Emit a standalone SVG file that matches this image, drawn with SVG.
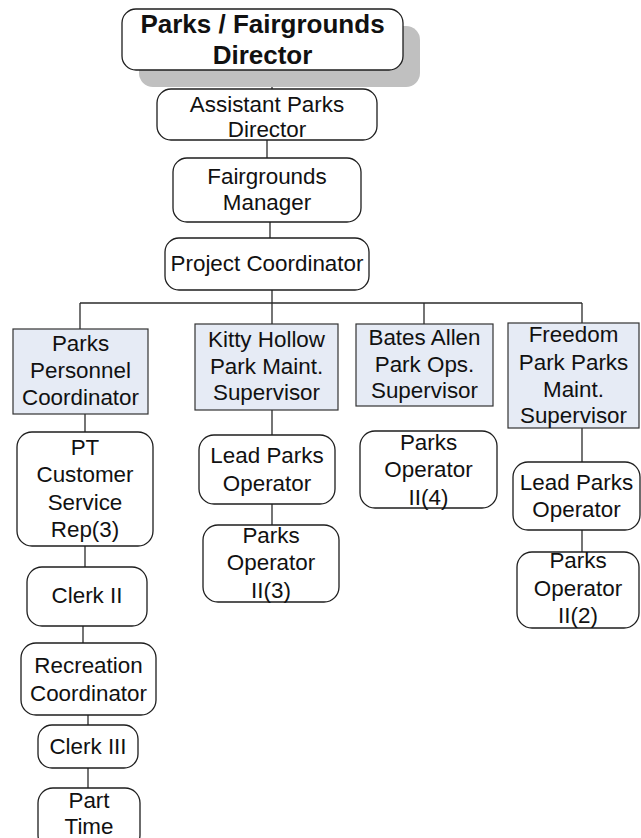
<svg xmlns="http://www.w3.org/2000/svg" width="641" height="838" viewBox="0 0 641 838">
  <style>
    .box { fill: #ffffff; stroke: #1e1e1e; stroke-width: 1.3; }
    .pos { fill: #e6ebf5; stroke: #333333; stroke-width: 1.2; }
    .shadow { fill: #c0c0c0; }
    .lbl { font-family: "Liberation Sans", Arial, sans-serif; font-size: 22.4px; fill: #111111; text-anchor: middle; }
    .head { font-family: "Liberation Sans", Arial, sans-serif; font-size: 26px; font-weight: bold; fill: #111111; text-anchor: middle; }
    .wire { stroke: #2a2a2a; stroke-width: 1.3; fill: none; }
  </style>
  <rect width="641" height="838" fill="#ffffff"/>

  <!-- reporting lines -->
  <g id="connectors">
    <path class="wire" d="M272 70V89"/>
    <path class="wire" d="M267 140V158"/>
    <path class="wire" d="M270 222V238"/>
    <path class="wire" d="M272 290V326"/>
    <path class="wire" d="M80 303H582"/>
    <path class="wire" d="M80 303V329"/>
    <path class="wire" d="M424 303V324"/>
    <path class="wire" d="M582 303V323"/>
    <path class="wire" d="M85 414V432"/>
    <path class="wire" d="M85 546V567"/>
    <path class="wire" d="M83 626V643"/>
    <path class="wire" d="M88 715V725"/>
    <path class="wire" d="M88 768V788"/>
    <path class="wire" d="M272 410V435"/>
    <path class="wire" d="M272 504V525"/>
    <path class="wire" d="M582 428V462"/>
    <path class="wire" d="M582 530V552"/>
  </g>

  <g id="director">
    <rect class="shadow" x="139" y="26" width="281" height="61" rx="14"/>
    <rect class="box" x="122" y="9" width="281" height="61" rx="14"/>
    <text class="head" x="262.5" y="33">Parks / Fairgrounds</text>
    <text class="head" x="262.5" y="64">Director</text>
  </g>

  <g id="assistant-director">
    <rect class="box" x="157" y="89" width="220" height="51" rx="14"/>
    <text class="lbl" x="267" y="112">Assistant Parks</text>
    <text class="lbl" x="267" y="137">Director</text>
  </g>

  <g id="fairgrounds-manager">
    <rect class="box" x="173" y="158" width="188" height="64" rx="14"/>
    <text class="lbl" x="267" y="184">Fairgrounds</text>
    <text class="lbl" x="267" y="210">Manager</text>
  </g>

  <g id="project-coordinator">
    <rect class="box" x="165" y="238" width="204" height="52" rx="14"/>
    <text class="lbl" x="267" y="271">Project Coordinator</text>
  </g>

  <g id="personnel-coordinator">
    <rect class="pos" x="13" y="329" width="135" height="85"/>
    <text class="lbl" x="80.5" y="351">Parks</text>
    <text class="lbl" x="80.5" y="378">Personnel</text>
    <text class="lbl" x="80.5" y="405">Coordinator</text>
  </g>

  <g id="kitty-hollow-supervisor">
    <rect class="pos" x="195" y="324" width="143" height="86"/>
    <text class="lbl" x="266.5" y="347">Kitty Hollow</text>
    <text class="lbl" x="266.5" y="374">Park Maint.</text>
    <text class="lbl" x="266.5" y="400">Supervisor</text>
  </g>

  <g id="bates-allen-supervisor">
    <rect class="pos" x="356" y="324" width="137" height="82"/>
    <text class="lbl" x="424.5" y="345">Bates Allen</text>
    <text class="lbl" x="424.5" y="372">Park Ops.</text>
    <text class="lbl" x="424.5" y="398">Supervisor</text>
  </g>

  <g id="freedom-park-supervisor">
    <rect class="pos" x="508" y="323" width="131" height="105"/>
    <text class="lbl" x="573.5" y="342">Freedom</text>
    <text class="lbl" x="573.5" y="370">Park Parks</text>
    <text class="lbl" x="573.5" y="397">Maint.</text>
    <text class="lbl" x="573.5" y="423">Supervisor</text>
  </g>

  <g id="pt-customer-service">
    <rect class="box" x="17" y="432" width="136" height="114" rx="15"/>
    <text class="lbl" x="85" y="455">PT</text>
    <text class="lbl" x="85" y="482">Customer</text>
    <text class="lbl" x="85" y="510">Service</text>
    <text class="lbl" x="85" y="537">Rep(3)</text>
  </g>

  <g id="clerk-ii">
    <rect class="box" x="27" y="567" width="120" height="59" rx="15"/>
    <text class="lbl" x="87" y="603">Clerk II</text>
  </g>

  <g id="recreation-coordinator">
    <rect class="box" x="21" y="643" width="135" height="72" rx="15"/>
    <text class="lbl" x="88.5" y="673">Recreation</text>
    <text class="lbl" x="88.5" y="701">Coordinator</text>
  </g>

  <g id="clerk-iii">
    <rect class="box" x="38" y="725" width="100" height="43" rx="14"/>
    <text class="lbl" x="88" y="754">Clerk III</text>
  </g>

  <g id="part-time">
    <rect class="box" x="38" y="788" width="102" height="62" rx="15"/>
    <text class="lbl" x="89" y="808">Part</text>
    <text class="lbl" x="89" y="834">Time</text>
  </g>

  <g id="kitty-lead-operator">
    <rect class="box" x="199" y="435" width="136" height="69" rx="15"/>
    <text class="lbl" x="267" y="463">Lead Parks</text>
    <text class="lbl" x="267" y="491">Operator</text>
  </g>

  <g id="kitty-operators">
    <rect class="box" x="203" y="525" width="136" height="77" rx="15"/>
    <text class="lbl" x="271" y="543">Parks</text>
    <text class="lbl" x="271" y="570">Operator</text>
    <text class="lbl" x="271" y="598">II(3)</text>
  </g>

  <g id="bates-operators">
    <rect class="box" x="360" y="431" width="137" height="77" rx="15"/>
    <text class="lbl" x="428.5" y="450">Parks</text>
    <text class="lbl" x="428.5" y="477">Operator</text>
    <text class="lbl" x="428.5" y="505">II(4)</text>
  </g>

  <g id="freedom-lead-operator">
    <rect class="box" x="513" y="462" width="127" height="68" rx="15"/>
    <text class="lbl" x="576.5" y="490">Lead Parks</text>
    <text class="lbl" x="576.5" y="517">Operator</text>
  </g>

  <g id="freedom-operators">
    <rect class="box" x="517" y="552" width="122" height="76" rx="15"/>
    <text class="lbl" x="578" y="568">Parks</text>
    <text class="lbl" x="578" y="596">Operator</text>
    <text class="lbl" x="578" y="623">II(2)</text>
  </g>
</svg>
